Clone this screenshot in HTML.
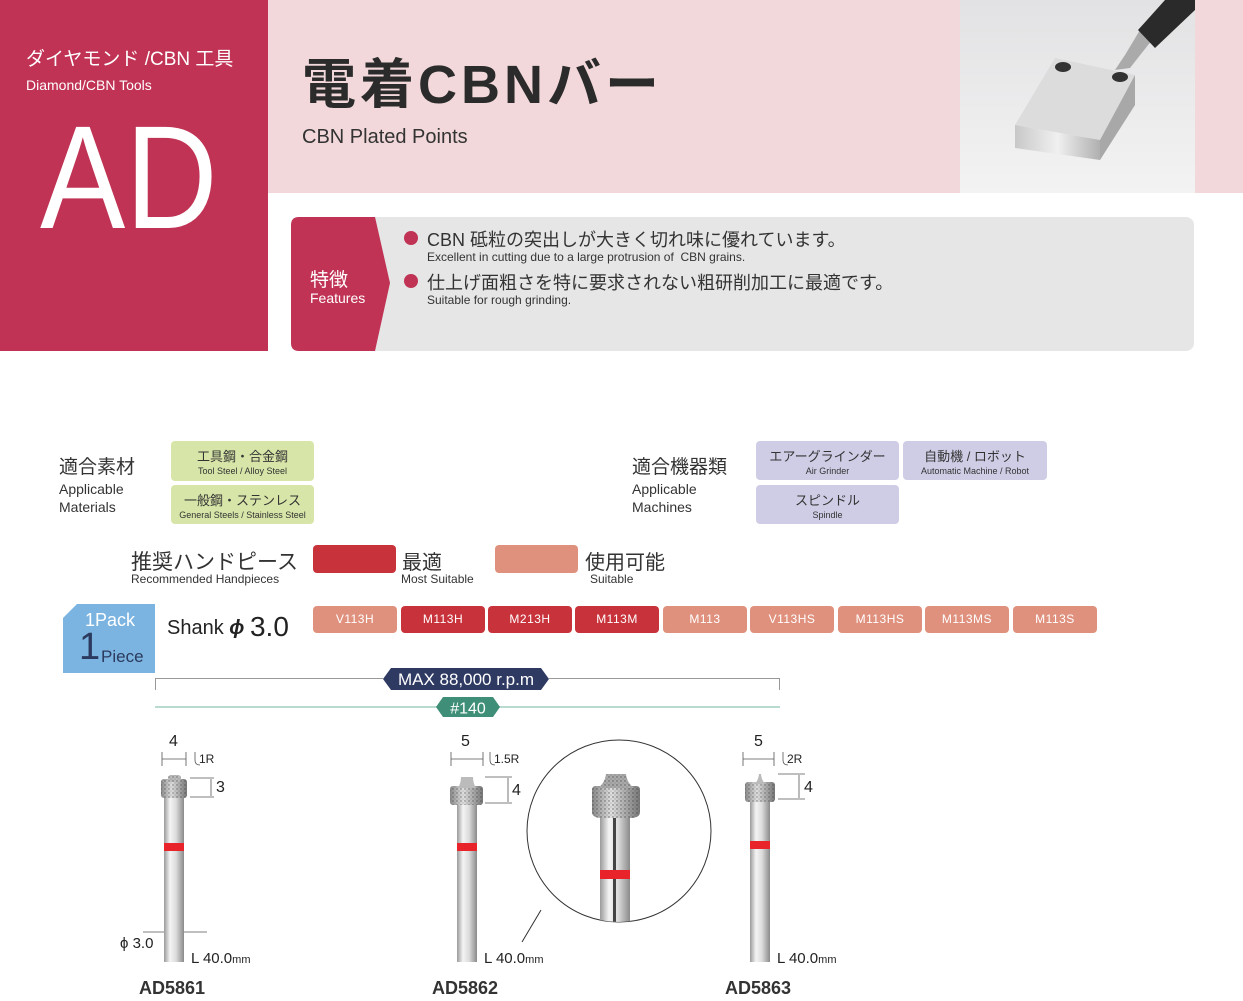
<!DOCTYPE html>
<html><head><meta charset="utf-8">
<style>
*{margin:0;padding:0;box-sizing:border-box}
body{width:1243px;height:1001px;background:#fff;position:relative;overflow:hidden;font-family:"Liberation Sans","Noto Sans CJK JP",sans-serif;color:#333}
.a{position:absolute;white-space:nowrap}
.chip{position:absolute;top:606px;width:84px;height:27px;border-radius:4px;color:#fff;font-size:12px;text-align:center;line-height:27px;letter-spacing:0.5px}
.lt{background:#e0917e}.dk{background:#c8323a}
.g{position:absolute;background:#d7e6a8;border-radius:4px;text-align:center;color:#333}
.v{position:absolute;background:#cfcde6;border-radius:4px;text-align:center;color:#333}
.g b,.v b{display:block;font-weight:normal;font-size:13px;margin-top:5px}
.g i,.v i{display:block;font-style:normal;font-size:9px;margin-top:1px}
</style></head><body>
<div class="a" style="left:0;top:0;width:268px;height:351px;background:#c03355"></div>
<div class="a" style="left:268px;top:0;width:975px;height:193px;background:#f2d8da"></div>
<svg class="a" style="left:960px;top:0" width="235" height="193">
<defs><linearGradient id="bg" x1="0" y1="0" x2="0" y2="1"><stop offset="0" stop-color="#e2e2e4"/><stop offset="1" stop-color="#f3f3f3"/></linearGradient>
<linearGradient id="mt" x1="0" y1="0" x2="1" y2="0"><stop offset="0" stop-color="#c8c8c8"/><stop offset="0.5" stop-color="#f0f0f0"/><stop offset="1" stop-color="#b0b0b0"/></linearGradient></defs>
<rect width="235" height="193" fill="url(#bg)"/>
<polygon points="55,125 95,58 175,75 140,140" fill="#dcdcdc"/>
<polygon points="55,125 140,140 140,160 55,148" fill="url(#mt)"/>
<polygon points="140,140 175,75 175,105 140,160" fill="#a8a8a8"/>
<ellipse cx="103" cy="67" rx="8" ry="5" fill="#333"/>
<ellipse cx="160" cy="77" rx="8" ry="5" fill="#333"/>
<polygon points="155,70 165,55 180,30 192,40 170,68" fill="#aaa"/>
<polygon points="178,30 205,0 235,0 235,10 195,48" fill="#2a2a2a"/>
</svg>
<div class="a" style="left:26px;top:44px;color:#fff;font-size:19px">ダイヤモンド /CBN 工具</div>
<div class="a" style="left:26px;top:77px;color:#fff;font-size:14px">Diamond/CBN Tools</div>
<div class="a" style="left:40px;top:105px;color:#fff;font-size:147px;line-height:1;transform:scaleX(0.87);transform-origin:left top">AD</div>
<div class="a" style="left:302px;top:58px;font-size:54px;font-weight:bold;color:#2b2b2b;line-height:1;letter-spacing:4px">電着CBNバー</div>
<div class="a" style="left:302px;top:126px;font-size:20px;color:#333">CBN Plated Points</div>
<div class="a" style="left:291px;top:217px;width:903px;height:134px;background:#e6e6e6;border-radius:8px"></div>
<svg class="a" style="left:291px;top:217px" width="100" height="134"><path d="M8,0 H84 L99,66 L84,134 H8 Q0,134 0,126 V8 Q0,0 8,0Z" fill="#c03355"/></svg>
<div class="a" style="left:310px;top:265px;color:#fff;font-size:19px">特徴</div>
<div class="a" style="left:310px;top:290px;color:#fff;font-size:14px">Features</div>
<div class="a" style="left:404px;top:231px;width:14px;height:14px;border-radius:50%;background:#c03355"></div>
<div class="a" style="left:427px;top:226px;font-size:18px;color:#333">CBN 砥粒の突出しが大きく切れ味に優れています。</div>
<div class="a" style="left:427px;top:250px;font-size:12px;color:#333">Excellent in cutting due to a large protrusion of&nbsp; CBN grains.</div>
<div class="a" style="left:404px;top:274px;width:14px;height:14px;border-radius:50%;background:#c03355"></div>
<div class="a" style="left:427px;top:269px;font-size:18px;color:#333">仕上げ面粗さを特に要求されない粗研削加工に最適です。</div>
<div class="a" style="left:427px;top:293px;font-size:12px;color:#333">Suitable for rough grinding.</div>

<div class="a" style="left:59px;top:452px;font-size:19px">適合素材</div>
<div class="a" style="left:59px;top:480px;font-size:14px;line-height:18px">Applicable<br>Materials</div>
<div class="g" style="left:171px;top:441px;width:143px;height:40px"><b>工具鋼・合金鋼</b><i>Tool Steel / Alloy Steel</i></div>
<div class="g" style="left:171px;top:485px;width:143px;height:39px"><b>一般鋼・ステンレス</b><i>General Steels / Stainless Steel</i></div>
<div class="a" style="left:632px;top:452px;font-size:19px">適合機器類</div>
<div class="a" style="left:632px;top:480px;font-size:14px;line-height:18px">Applicable<br>Machines</div>
<div class="v" style="left:756px;top:441px;width:143px;height:39px"><b>エアーグラインダー</b><i>Air Grinder</i></div>
<div class="v" style="left:903px;top:441px;width:144px;height:39px"><b>自動機 / ロボット</b><i>Automatic Machine / Robot</i></div>
<div class="v" style="left:756px;top:485px;width:143px;height:39px"><b>スピンドル</b><i>Spindle</i></div>

<div class="a" style="left:131px;top:546px;font-size:21px">推奨ハンドピース</div>
<div class="a" style="left:131px;top:572px;font-size:12px">Recommended Handpieces</div>
<div class="a dk" style="left:313px;top:545px;width:83px;height:28px;border-radius:4px"></div>
<div class="a" style="left:402px;top:546px;font-size:20px">最適</div>
<div class="a" style="left:401px;top:572px;font-size:12px">Most Suitable</div>
<div class="a lt" style="left:495px;top:545px;width:83px;height:28px;border-radius:4px"></div>
<div class="a" style="left:585px;top:546px;font-size:20px">使用可能</div>
<div class="a" style="left:590px;top:572px;font-size:12px">Suitable</div>

<svg class="a" style="left:63px;top:604px" width="92" height="69"><polygon points="14,0 92,0 92,69 0,69 0,14" fill="#7bb4e0"/></svg>
<div class="a" style="left:85px;top:610px;color:#fff;font-size:18px">1Pack</div>
<div class="a" style="left:79px;top:628px;color:#2b3a5e;font-size:38px;line-height:1">1</div>
<div class="a" style="left:101px;top:647px;color:#2b3a5e;font-size:17px">Piece</div>
<div class="a" style="left:167px;top:609px;font-size:20px;color:#222">Shank <i style="font-style:italic;font-weight:bold">ϕ</i> <span style="font-size:28px;position:relative;top:2px">3.0</span></div>

<div class="chip lt" style="left:313px">V113H</div>
<div class="chip dk" style="left:401px">M113H</div>
<div class="chip dk" style="left:488px">M213H</div>
<div class="chip dk" style="left:575px">M113M</div>
<div class="chip lt" style="left:663px">M113</div>
<div class="chip lt" style="left:750px">V113HS</div>
<div class="chip lt" style="left:838px">M113HS</div>
<div class="chip lt" style="left:925px">M113MS</div>
<div class="chip lt" style="left:1013px">M113S</div>

<svg class="a" style="left:0;top:0" width="1243" height="1001">
<defs>
<linearGradient id="sh" x1="0" y1="0" x2="1" y2="0"><stop offset="0" stop-color="#9a9a9a"/><stop offset="0.3" stop-color="#f4f4f4"/><stop offset="0.6" stop-color="#dcdcdc"/><stop offset="1" stop-color="#8a8a8a"/></linearGradient>
<linearGradient id="hd" x1="0" y1="0" x2="1" y2="0"><stop offset="0" stop-color="#888"/><stop offset="0.4" stop-color="#e0e0e0"/><stop offset="1" stop-color="#777"/></linearGradient>
<pattern id="dots" width="4" height="4" patternUnits="userSpaceOnUse"><circle cx="1" cy="1" r="0.7" fill="#333"/><circle cx="3" cy="3" r="0.5" fill="#555"/></pattern>
</defs>
<path d="M155.5,690 V678.5 H383 M549,678.5 H779.5 V690" fill="none" stroke="#999" stroke-width="1"/>
<polygon points="383,679 391,668 541,668 549,679 541,690 391,690" fill="#2f3a63"/>
<text x="466" y="685" fill="#fff" font-size="17" text-anchor="middle" font-family="Liberation Sans">MAX 88,000 r.p.m</text>
<line x1="155" y1="707" x2="780" y2="707" stroke="#8fc4b4" stroke-width="1.2"/>
<polygon points="436,707 443,697 493,697 500,707 493,717 443,717" fill="#3f8f78"/>
<text x="468" y="713.5" fill="#fff" font-size="16" text-anchor="middle" font-family="Liberation Sans">#140</text>

<g font-family="Liberation Sans" fill="#222">
<rect x="164" y="797" width="20" height="165" fill="url(#sh)"/>
<rect x="164" y="843" width="20" height="8" fill="#e8232a"/>
<rect x="161" y="779" width="26" height="19" rx="3" fill="url(#hd)"/><rect x="161" y="779" width="26" height="19" rx="3" fill="url(#dots)" opacity="0.6"/>
<rect x="168" y="775" width="13" height="7" rx="3" fill="#bbb"/><rect x="168" y="775" width="13" height="7" rx="3" fill="url(#dots)" opacity="0.6"/>
<text x="169" y="746" font-size="16">4</text>
<path d="M162,752 V766 M186,752 V766 M162,759 H186" stroke="#555" stroke-width="0.8"/>
<path d="M195,752 V760 Q195,765 200,765" stroke="#555" fill="none" stroke-width="0.8"/>
<text x="199" y="763" font-size="12">1R</text>
<path d="M190,778 H214 M190,797 H214 M211,779 V796" stroke="#555" stroke-width="0.8"/>
<text x="216" y="792" font-size="16">3</text>
<text x="120" y="948" font-size="15">ϕ 3.0</text>
<path d="M143,932 H164 M184,932 H207" stroke="#555" stroke-width="0.8"/>
<text x="191" y="963" font-size="15">L 40.0<tspan font-size="11">mm</tspan></text>
<text x="139" y="994" font-size="18" font-weight="bold" fill="#333">AD5861</text>
<rect x="457" y="803" width="20" height="159" fill="url(#sh)"/>
<rect x="457" y="843" width="20" height="8" fill="#e8232a"/>
<rect x="450" y="786" width="33" height="19" rx="3" fill="url(#hd)"/><rect x="450" y="786" width="33" height="19" rx="3" fill="url(#dots)" opacity="0.6"/>
<path d="M458,788 Q461,783 461,777 H473 Q473,783 476,788Z" fill="#bbb"/>
<text x="461" y="746" font-size="16">5</text>
<path d="M451,752 V766 M483,752 V766 M451,759 H483" stroke="#555" stroke-width="0.8"/>
<path d="M490,752 V760 Q490,765 495,765" stroke="#555" fill="none" stroke-width="0.8"/>
<text x="494" y="763" font-size="12">1.5R</text>
<path d="M485,777 H512 M485,803 H512 M508,778 V802" stroke="#555" stroke-width="0.8"/>
<text x="512" y="795" font-size="16">4</text>
<text x="484" y="963" font-size="15">L 40.0<tspan font-size="11">mm</tspan></text>
<text x="432" y="994" font-size="18" font-weight="bold" fill="#333">AD5862</text>
<ellipse cx="619" cy="831" rx="92" ry="91" fill="#fff" stroke="#333" stroke-width="1"/>
<clipPath id="cc"><ellipse cx="619" cy="831" rx="92" ry="91"/></clipPath>
<g clip-path="url(#cc)">
<rect x="600" y="815" width="30" height="110" fill="url(#sh)"/>
<rect x="613" y="815" width="3" height="110" fill="#444"/>
<rect x="600" y="870" width="30" height="9" fill="#e8232a"/>
<path d="M592,790 Q592,786 596,786 H636 Q640,786 640,790 V812 Q640,818 630,818 H602 Q592,818 592,812Z" fill="url(#hd)"/>
<path d="M592,790 Q592,786 596,786 H636 Q640,786 640,790 V812 Q640,818 630,818 H602 Q592,818 592,812Z" fill="url(#dots)" opacity="0.7"/>
<path d="M598,788 Q605,783 606,774 H626 Q627,783 634,788Z" fill="#aaa"/>
<path d="M598,788 Q605,783 606,774 H626 Q627,783 634,788Z" fill="url(#dots)" opacity="0.7"/>
</g>
<line x1="541" y1="910" x2="522" y2="942" stroke="#333" stroke-width="1"/>
<rect x="750" y="800" width="20" height="162" fill="url(#sh)"/>
<rect x="750" y="841" width="20" height="8" fill="#e8232a"/>
<rect x="745" y="782" width="30" height="20" rx="3" fill="url(#hd)"/><rect x="745" y="782" width="30" height="20" rx="3" fill="url(#dots)" opacity="0.6"/>
<path d="M754,784 Q758,782 759,774 H761 Q762,782 766,784Z" fill="#bbb"/>
<text x="754" y="746" font-size="16">5</text>
<path d="M743,752 V766 M774,752 V766 M743,759 H774" stroke="#555" stroke-width="0.8"/>
<path d="M783,752 V760 Q783,765 788,765" stroke="#555" fill="none" stroke-width="0.8"/>
<text x="787" y="763" font-size="12">2R</text>
<path d="M778,774 H805 M778,799 H805 M799,775 V798" stroke="#555" stroke-width="0.8"/>
<text x="804" y="792" font-size="16">4</text>
<text x="777" y="963" font-size="15">L 40.0<tspan font-size="11">mm</tspan></text>
<text x="725" y="994" font-size="18" font-weight="bold" fill="#333">AD5863</text>
</g>
</svg>
</body></html>
